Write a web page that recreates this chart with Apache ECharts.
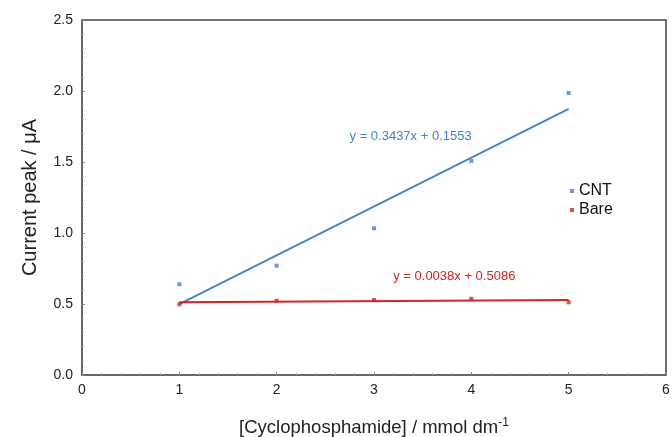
<!DOCTYPE html>
<html>
<head>
<meta charset="utf-8">
<script src="https://cdn.jsdelivr.net/npm/echarts@6/dist/echarts.min.js"></script>
<style>html,body{margin:0;padding:0;background:#fff}#c{width:672px;height:437px}</style>
</head>
<body>
<div id="c"></div>
<script>
var concentrations = [1, 2, 3, 4, 5];
var cntValues = [0.639, 0.770, 1.033, 1.507, 1.986];
var bareValues = [0.498, 0.523, 0.528, 0.537, 0.512];
var cntTrend = [[1, 0.499], [5, 1.874]];
var bareTrend = [[1, 0.512], [5, 0.528]];
var cntEquation = 'y = 0.3437x + 0.1553';
var bareEquation = 'y = 0.0038x + 0.5086';
var cntEqPos = [3.376, 1.683];
var bareEqPos = [3.825, 0.697];
var xTicks = [0, 1, 2, 3, 4, 5, 6];
var yTicks = [0.0, 0.5, 1.0, 1.5, 2.0, 2.5];

var BLUE = '#4a7fcb';
var RED = '#d42424';
var FONT = 'Liberation Sans, Arial, sans-serif';

function pairs(xs, ys) { return xs.map(function (x, i) { return [x, ys[i]]; }); }

var chart = echarts.init(document.getElementById('c'), null, {renderer: 'canvas'});
var axisLineStyle = {color: '#666', width: 1.5};
chart.setOption({
  animation: false,
  backgroundColor: '#fff',
  textStyle: {fontFamily: FONT},
  grid: {left: 82, right: 6, top: 20, bottom: 62, show: true, borderColor: '#444', borderWidth: 1.5,
         containLabel: false, outerBoundsMode: 'none'},
  legend: {
    data: ['CNT', 'Bare'],
    orient: 'vertical',
    left: 565,
    top: 178,
    itemWidth: 4,
    itemHeight: 4,
    itemGap: 3,
    textStyle: {fontSize: 16, color: '#111', fontFamily: FONT},
    icon: 'rect'
  },
  xAxis: {
    type: 'value',
    min: xTicks[0], max: xTicks[xTicks.length - 1], interval: 1,
    axisLine: {show: true, lineStyle: axisLineStyle, onZero: false},
    axisTick: {show: true, inside: true, length: 3, lineStyle: {color: '#888'}},
    minorTick: {show: true, splitNumber: 5, length: 2, lineStyle: {color: '#aaa'}},
    splitLine: {show: false},
    axisLabel: {fontSize: 14, color: '#222', margin: 8, fontFamily: FONT},
    name: '{n|[Cyclophosphamide] / mmol dm}{s|-1}',
    nameLocation: 'middle',
    nameGap: 42,
    nameTextStyle: {
      rich: {
        n: {fontSize: 18.5, color: '#222', fontFamily: FONT},
        s: {fontSize: 12, color: '#222', fontFamily: FONT, verticalAlign: 'top', padding: [0, 0, 9, 0]}
      }
    }
  },
  yAxis: {
    type: 'value',
    min: yTicks[0], max: yTicks[yTicks.length - 1], interval: 0.5,
    axisLine: {show: true, lineStyle: axisLineStyle, onZero: false},
    axisTick: {show: true, inside: true, length: 3, lineStyle: {color: '#888'}},
    minorTick: {show: true, splitNumber: 5, length: 2, lineStyle: {color: '#aaa'}},
    splitLine: {show: false},
    axisLabel: {fontSize: 14, color: '#222', margin: 9, fontFamily: FONT,
      formatter: function (v) { return v.toFixed(1); }},
    name: 'Current peak / μA',
    nameLocation: 'middle',
    nameGap: 42,
    nameTextStyle: {fontSize: 20, color: '#222', fontFamily: FONT}
  },
  series: [
    {
      name: 'CNT trend', type: 'line', data: cntTrend, symbol: 'none',
      lineStyle: {color: BLUE, width: 1.8}, z: 2, silent: true,
      markPoint: {
        symbol: 'rect', symbolSize: 0,
        label: {show: true, formatter: cntEquation, color: BLUE, fontSize: 13, fontFamily: FONT, position: 'inside'},
        data: [{coord: cntEqPos}]
      }
    },
    {
      name: 'Bare trend', type: 'line', data: bareTrend, symbol: 'none',
      lineStyle: {color: RED, width: 2}, z: 2, silent: true,
      markPoint: {
        symbol: 'rect', symbolSize: 0,
        label: {show: true, formatter: bareEquation, color: RED, fontSize: 13, fontFamily: FONT, position: 'inside'},
        data: [{coord: bareEqPos}]
      }
    },
    {
      name: 'CNT', type: 'scatter', data: pairs(concentrations, cntValues),
      symbol: 'rect', symbolSize: 4, itemStyle: {color: BLUE}, z: 3
    },
    {
      name: 'Bare', type: 'scatter', data: pairs(concentrations, bareValues),
      symbol: 'rect', symbolSize: 4, itemStyle: {color: RED}, z: 3
    }
  ]
});
</script>
</body>
</html>
